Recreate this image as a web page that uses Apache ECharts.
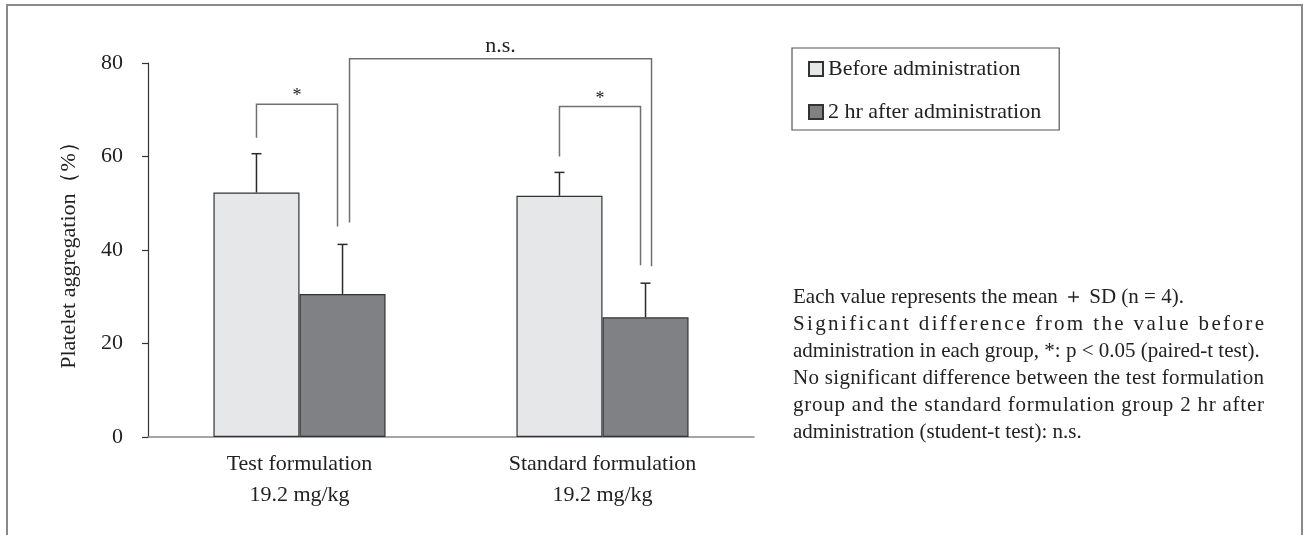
<!DOCTYPE html>
<html>
<head>
<meta charset="utf-8">
<script src="https://cdn.jsdelivr.net/npm/echarts@6/dist/echarts.min.js"></script>
<style>
  html, body { margin: 0; padding: 0; background: #fff; }
  #main { width: 1306px; height: 535px; }
</style>
</head>
<body>
<div id="main"></div>
<script>
// data
var categories = ['Test formulation\n19.2 mg/kg', 'Standard formulation\n19.2 mg/kg'];
var seriesNames = ['Before administration', '2 hr after administration'];
var beforeMean = [52.3, 51.6];
var beforeSD = [8.3, 5.0];
var afterMean = [30.6, 25.6];
var afterSD = [10.6, 7.3];
var yMin = 0, yMax = 80, yStep = 20;
var yName = 'Platelet aggregation（%）';

// significance brackets: [category, series] -> [category, series], bracket height (axis value)
var sigBrackets = [
  { from: [0, 0], to: [0, 1], level: 71.2, label: '*' },
  { from: [0, 1], to: [1, 1], level: 80.9, label: 'n.s.' },
  { from: [1, 0], to: [1, 1], level: 70.7, label: '*' }
];

var noteLines = [
  'Each value represents the mean ＋ SD (n = 4).',
  'Significant difference from the value before',
  'administration in each group, *: p < 0.05 (paired-t test).',
  'No significant difference between the test formulation',
  'group and the standard formulation group 2 hr after',
  'administration (student-t test): n.s.'
];
var noteJustify = [false, true, false, true, true, false];

var FONT = '"Liberation Serif", "Times New Roman", serif';
var BAR_RATIO = 0.284;
var means = [beforeMean, afterMean];
var sds = [beforeSD, afterSD];

function errorSeries(idx) {
  return {
    type: 'custom',
    name: 'err' + idx,
    z: 3,
    silent: true,
    renderItem: function(params, api) {
      var cat = api.value(0), m = api.value(1), sd = api.value(2);
      var base = api.coord([cat, m]);
      var top = api.coord([cat, m + sd]);
      var bw = api.size([1, 0])[0] * BAR_RATIO;
      var x = base[0] + (idx === 0 ? -bw / 2 : bw / 2);
      var st = { stroke: '#2a2a2a', lineWidth: 1.5 };
      return {
        type: 'group',
        children: [
          { type: 'line', shape: { x1: x, y1: base[1], x2: x, y2: top[1] }, style: st },
          { type: 'line', shape: { x1: x - 5, y1: top[1], x2: x + 5, y2: top[1] }, style: st }
        ]
      };
    },
    data: means[idx].map(function(v, i) { return [i, v, sds[idx][i]]; })
  };
}

var chart = echarts.init(document.getElementById('main'));
var option = {
  backgroundColor: '#fff',
  animation: false,
  textStyle: { fontFamily: FONT },
  grid: { left: 148, top: 63, width: 606, height: 374 },
  legend: {
    data: seriesNames,
    orient: 'vertical',
    left: 792,
    top: 48,
    padding: [10, 18, 7, 16],
    itemGap: 21,
    itemWidth: 14,
    itemHeight: 14,
    icon: 'rect',
    borderColor: '#555',
    borderWidth: 1.2,
    textStyle: { fontFamily: FONT, fontSize: 22, color: '#222', lineHeight: 22 }
  },
  xAxis: {
    type: 'category',
    data: categories,
    axisLine: { lineStyle: { color: '#888', width: 1.5 } },
    axisTick: { length: 8, lineStyle: { color: '#888', width: 1.5 } },
    axisLabel: { fontFamily: FONT, fontSize: 22, lineHeight: 31, margin: 12, color: '#222' }
  },
  yAxis: {
    type: 'value',
    min: yMin,
    max: yMax,
    interval: yStep,
    splitLine: { show: false },
    axisLine: { show: true, lineStyle: { color: '#333', width: 1.2 } },
    axisTick: { show: true, length: 6, lineStyle: { color: '#333', width: 1.2 } },
    axisLabel: { fontFamily: FONT, fontSize: 22, margin: 25, color: '#222' },
    name: yName,
    nameLocation: 'middle',
    nameGap: 68,
    nameRotate: 90,
    nameTextStyle: { fontFamily: FONT, fontSize: 22, color: '#222' }
  },
  series: [
    {
      type: 'bar', name: seriesNames[0], data: beforeMean,
      barWidth: (BAR_RATIO * 100) + '%', barGap: '0%',
      itemStyle: { color: '#e6e7e8', borderColor: '#333', borderWidth: 1.2 }
    },
    {
      type: 'bar', name: seriesNames[1], data: afterMean,
      barWidth: (BAR_RATIO * 100) + '%', barGap: '0%',
      itemStyle: { color: '#808184', borderColor: '#333', borderWidth: 1.2 }
    },
    errorSeries(0),
    errorSeries(1)
  ]
};
chart.setOption(option);

// brackets and notes, placed from the axis scales
var graphics = [];
graphics.push({
  type: 'rect', z: -1, silent: true,
  shape: { x: 7, y: 5, width: 1295, height: 600 },
  style: { fill: 'none', stroke: '#8a8a8a', lineWidth: 2 }
});

function barTopPx(cat, s) {
  var c0 = chart.convertToPixel({ gridIndex: 0 }, [0, 0]);
  var c1 = chart.convertToPixel({ gridIndex: 0 }, [1, 0]);
  var bw = (c1[0] - c0[0]) * BAR_RATIO;
  var p = chart.convertToPixel({ gridIndex: 0 }, [cat, means[s][cat] + sds[s][cat]]);
  return [p[0] + (s === 0 ? -bw / 2 : bw / 2), p[1]];
}

sigBrackets.forEach(function(b) {
  var a = barTopPx(b.from[0], b.from[1]);
  var z = barTopPx(b.to[0], b.to[1]);
  var yt = chart.convertToPixel({ gridIndex: 0 }, [0, b.level])[1];
  var wide = b.label !== '*';
  var xa = a[0] + (wide ? 7 : 0), xb = z[0] + (wide ? 6 : -5);
  var ya = a[1] - (wide ? 22 : 16), yb = z[1] - (wide ? 17 : 18);
  graphics.push({
    type: 'polyline', silent: true,
    shape: { points: [[xa, ya], [xa, yt], [xb, yt], [xb, yb]] },
    style: { fill: 'none', stroke: '#707070', lineWidth: 1.5 }
  });
  graphics.push({
    type: 'text', silent: true,
    x: (xa + xb) / 2, y: yt - (wide ? 12.5 : 7.5),
    style: {
      text: b.label, fill: '#222', font: (wide ? 22 : 18) + 'px ' + FONT,
      textAlign: 'center', textVerticalAlign: 'middle'
    }
  });
});

var ctx = document.createElement('canvas').getContext('2d');
var noteFont = '21px ' + FONT;
ctx.font = noteFont;
var noteX = 793, noteRight = 1264, noteY = 297, notePitch = 27;
noteLines.forEach(function(line, i) {
  var y = noteY + i * notePitch;
  if (!noteJustify[i]) {
    graphics.push({
      type: 'text', silent: true, x: noteX, y: y,
      style: { text: line, fill: '#222', font: noteFont, textAlign: 'left', textVerticalAlign: 'middle' }
    });
    return;
  }
  var chars = line.split('');
  var widths = chars.map(function(c) { return ctx.measureText(c).width; });
  var total = widths.reduce(function(s, w) { return s + w; }, 0);
  var extra = (noteRight - noteX - total) / (chars.length - 1);
  var x = noteX;
  chars.forEach(function(c, k) {
    if (c !== ' ') {
      graphics.push({
        type: 'text', silent: true, x: x, y: y,
        style: { text: c, fill: '#222', font: noteFont, textAlign: 'left', textVerticalAlign: 'middle' }
      });
    }
    x += widths[k] + extra;
  });
});

chart.setOption({ graphic: graphics });
</script>
</body>
</html>
